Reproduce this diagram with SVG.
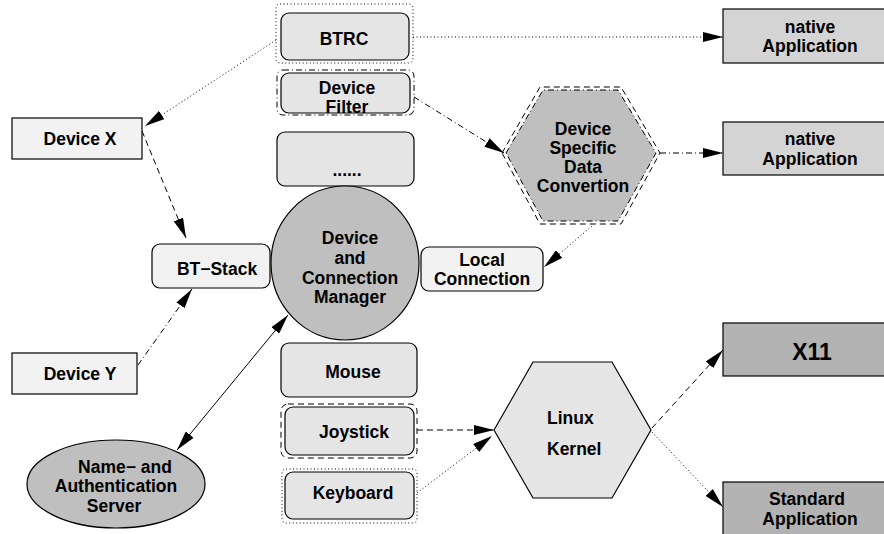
<svg xmlns="http://www.w3.org/2000/svg" width="884" height="534" viewBox="0 0 884 534">
  <style>
    text { font-family: "Liberation Sans", Arial, Helvetica, sans-serif; font-weight: bold; font-size: 17.5px; fill: #000; text-anchor: middle; }
    .shape { stroke: #000; stroke-width: 1.2; }
    .light { fill: #f2f2f2; }
    .mid { fill: #e5e5e5; }
    .app { fill: #d4d4d4; }
    .dark { fill: #bfbfbf; }
    .sys { fill: #b3b3b3; }
    .frame { fill: none; stroke: #000; stroke-width: 1; }
    .conn { fill: none; stroke: #000; stroke-width: 1; }
    .dot { stroke-dasharray: 1 2.5; }
    .dash { stroke-dasharray: 6 4; }
    .dashdot { stroke-dasharray: 6 3 1 3; }
  </style>
  <defs>
    <marker id="arrow" markerUnits="userSpaceOnUse" markerWidth="20" markerHeight="10" refX="20" refY="5" orient="auto-start-reverse" viewBox="0 0 20 10">
      <path d="M0,0 L20,5 L0,10 z" fill="#000"/>
    </marker>
  </defs>

  <!-- connectors -->
  <g id="connectors">
    <line class="conn dot" x1="413" y1="37" x2="723" y2="37" marker-end="url(#arrow)"/>
    <line class="conn dot" x1="276" y1="40" x2="145" y2="126" marker-end="url(#arrow)"/>
    <line class="conn dash" x1="142" y1="131" x2="186" y2="238" marker-end="url(#arrow)"/>
    <line class="conn dashdot" x1="138" y1="365" x2="192" y2="289" marker-end="url(#arrow)"/>
    <line class="conn" x1="177" y1="450" x2="288" y2="315" marker-start="url(#arrow)" marker-end="url(#arrow)"/>
    <line class="conn dashdot" x1="414" y1="97" x2="504" y2="153" marker-end="url(#arrow)"/>
    <line class="conn dashdot" x1="660" y1="153" x2="723" y2="153" marker-end="url(#arrow)"/>
    <line class="conn dot" x1="592" y1="226" x2="544" y2="267" marker-end="url(#arrow)"/>
    <line class="conn dash" x1="417" y1="430" x2="494" y2="430" marker-end="url(#arrow)"/>
    <line class="conn dot" x1="417" y1="493" x2="492" y2="436" marker-end="url(#arrow)"/>
    <line class="conn dash" x1="652" y1="428" x2="723" y2="350" marker-end="url(#arrow)"/>
    <line class="conn dot" x1="652" y1="432" x2="723" y2="507" marker-end="url(#arrow)"/>
  </g>

  <!-- BTRC -->
  <g id="btrc">
    <rect class="frame dot" x="276" y="4" width="137" height="59" rx="4"/>
    <rect class="shape mid" x="281" y="13" width="128" height="47" rx="8"/>
    <text x="344" y="45">BTRC</text>
  </g>

  <!-- Device Filter -->
  <g id="device-filter">
    <rect class="frame dashdot" x="277" y="70" width="137" height="45" rx="6"/>
    <rect class="shape mid" x="281" y="73" width="129" height="40" rx="8"/>
    <text x="347" y="94">Device</text>
    <text x="347" y="113">Filter</text>
  </g>

  <!-- further devices -->
  <g id="more-devices">
    <rect class="shape mid" x="277" y="132" width="137" height="54" rx="8"/>
    <text x="347" y="176">......</text>
  </g>

  <!-- Device and Connection Manager -->
  <g id="manager">
    <ellipse class="shape dark" cx="345" cy="263" rx="74" ry="77"/>
    <text x="350" y="244">Device</text>
    <text x="350" y="264">and</text>
    <text x="350" y="284">Connection</text>
    <text x="350" y="303">Manager</text>
  </g>

  <!-- Mouse -->
  <g id="mouse">
    <rect class="shape mid" x="281" y="343" width="136" height="54" rx="8"/>
    <text x="353" y="378">Mouse</text>
  </g>

  <!-- Joystick -->
  <g id="joystick">
    <rect class="frame dash" x="281" y="404" width="136" height="54" rx="7"/>
    <rect class="shape mid" x="285" y="407" width="129" height="48" rx="8"/>
    <text x="354" y="438">Joystick</text>
  </g>

  <!-- Keyboard -->
  <g id="keyboard">
    <rect class="frame dot" x="282" y="469" width="135" height="54" rx="4"/>
    <rect class="shape mid" x="285" y="472" width="129" height="47" rx="8"/>
    <text x="353" y="499">Keyboard</text>
  </g>

  <!-- Device X -->
  <g id="device-x">
    <rect class="shape light" x="12" y="118" width="130" height="41"/>
    <text x="80" y="145">Device X</text>
  </g>

  <!-- Device Y -->
  <g id="device-y">
    <rect class="shape light" x="12" y="353" width="125" height="41"/>
    <text x="80" y="380">Device Y</text>
  </g>

  <!-- BT-Stack -->
  <g id="bt-stack">
    <rect class="shape light" x="152" y="244" width="118" height="44" rx="8"/>
    <text x="217" y="275">BT−Stack</text>
  </g>

  <!-- Name- and Authentication Server -->
  <g id="auth-server">
    <ellipse class="shape dark" cx="116" cy="484" rx="89" ry="44"/>
    <text x="125" y="473">Name− and</text>
    <text x="116" y="492">Authentication</text>
    <text x="114" y="512">Server</text>
  </g>

  <!-- Local Connection -->
  <g id="local-connection">
    <rect class="shape light" x="421" y="247" width="122" height="44" rx="8"/>
    <text x="482" y="266">Local</text>
    <text x="482" y="285">Connection</text>
  </g>

  <!-- Device Specific Data Convertion -->
  <g id="data-conversion">
    <polygon class="frame dash" points="502,153 540,87 621,87 660,153 621,224 540,224"/>
    <polygon class="dark" stroke="#000" stroke-width="1" stroke-dasharray="6 3 1 3" points="506,153 543,90 618,90 656,153 618,221 543,221"/>
    <text x="583" y="135">Device</text>
    <text x="583" y="154">Specific</text>
    <text x="583" y="173">Data</text>
    <text x="583" y="192">Convertion</text>
  </g>

  <!-- Linux Kernel -->
  <g id="linux-kernel">
    <polygon class="shape mid" points="494,430 533,362 612,362 651,430 612,498 533,498"/>
    <text x="547" y="424" style="text-anchor:start">Linux</text>
    <text x="547" y="455" style="text-anchor:start">Kernel</text>
  </g>

  <!-- native Application (top) -->
  <g id="native-app-1">
    <rect class="shape app" x="723" y="9" width="170" height="54"/>
    <text x="810" y="33">native</text>
    <text x="810" y="52">Application</text>
  </g>

  <!-- native Application (bottom) -->
  <g id="native-app-2">
    <rect class="shape app" x="723" y="122" width="170" height="53"/>
    <text x="810" y="145">native</text>
    <text x="810" y="165">Application</text>
  </g>

  <!-- X11 -->
  <g id="x11">
    <rect class="shape sys" x="723" y="323" width="170" height="53"/>
    <text x="812" y="360" style="font-size:23px">X11</text>
  </g>

  <!-- Standard Application -->
  <g id="standard-app">
    <rect class="shape sys" x="723" y="482" width="170" height="60"/>
    <text x="807" y="505">Standard</text>
    <text x="810" y="525">Application</text>
  </g>
</svg>
